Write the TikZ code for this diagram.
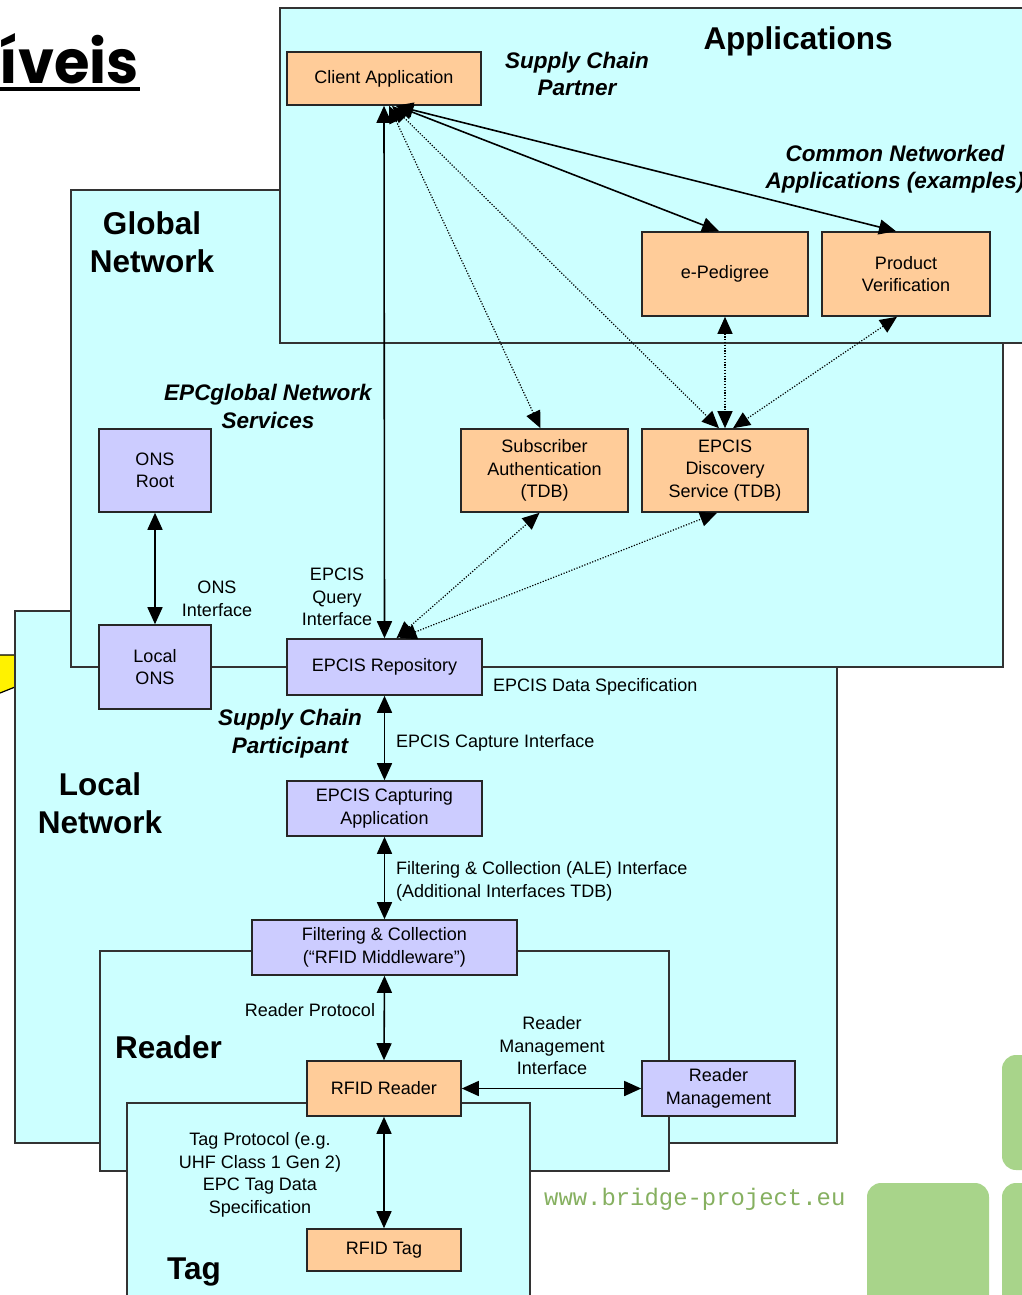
\documentclass[tikz,border=0pt]{standalone}
\usepackage{graphicx}
\usepackage{fontspec}
\setmainfont{Liberation Sans}
\setmonofont{Liberation Mono}
\newfontfamily\titlefont{Poppins}
\usetikzlibrary{arrows.meta}

\definecolor{netbg}{HTML}{CCFFFF}
\definecolor{appbox}{HTML}{FFCC99}
\definecolor{svcbox}{HTML}{CCCCFF}
\definecolor{frame}{HTML}{333333}
\definecolor{leaf}{HTML}{A8D48A}
\definecolor{urlgreen}{HTML}{86B060}

\newcommand\boxtext{\fontsize{18}{22.5}\selectfont}
\newcommand\headtext{\fontsize{31.5}{38}\selectfont\bfseries}
\newcommand\roletext{\fontsize{22.5}{27.5}\selectfont\bfseries\itshape}

\begin{document}
\begin{tikzpicture}[x=1pt,y=-1pt,
  zone/.style={draw=frame, fill=netbg, line width=1.6pt},
  comp/.style={draw=black!85, line width=1.6pt, font=\boxtext, align=center, inner sep=0pt},
  orangebox/.style={comp, fill=appbox},
  violetbox/.style={comp, fill=svcbox},
  lbl/.style={font=\boxtext, align=center, inner sep=0pt},
  head/.style={font=\headtext, align=center, inner sep=0pt},
  role/.style={font=\roletext, align=center, inner sep=0pt},
  link/.style={line width=1.6pt, {Triangle[length=17pt,width=15pt]}-{Triangle[length=17pt,width=15pt]}},
  dlink/.style={line width=1.2pt, dash pattern=on 1.2pt off 1.6pt, {Triangle[length=17pt,width=15pt]}-{Triangle[length=17pt,width=15pt]}},
  tile/.style={fill=leaf, rounded corners=14pt}]

\clip (0,0) rectangle (1022,1295);
\fill[white] (0,0) rectangle (1022,1295);

% heading fragment and its underline
\node[anchor=base east, inner sep=0pt] (heading) at (139,83.5)
  {\resizebox{139pt}{50pt}{\titlefont\bfseries íveis}};
\fill (0,87.5) rectangle (140,91.5);

% yellow pointer at the left margin
\filldraw[fill=yellow, draw=black, line width=1.2pt]
  (0,655) -- (15,655) -- (15,687) -- (0,693);

% nested network zones
\path[zone] (15,611) rectangle (837,1143);
\path[zone] (71,190) rectangle (1003,667);
\path[zone] (280,8) rectangle (1040,343);
\path[zone] (100,951) rectangle (669,1171);
\path[zone] (127,1103) rectangle (530,1310);

% decorative tiles
\path[tile] (867,1183) rectangle (989,1320);
\path[tile] (1002,1055) rectangle (1050,1170);
\path[tile] (1002,1183) rectangle (1050,1320);

% zone titles
\node[head, anchor=base] (tApps) at (798,50) {Applications};
\node[head] (tGlobal) at (152,242) {Global\\Network};
\node[head] (tLocal) at (100,803.5) {Local\\Network};
\node[head, anchor=west] (tReader) at (115,1047) {Reader};
\node[head, anchor=west] (tTag) at (167,1272) {Tag};

% role captions
\node[role] (rPartner) at (577,74) {Supply Chain\\Partner};
\node[role] (rCommon) at (895,169) {Common Networked\\Applications (examples)};
\node[role] (rServices) at (268,406.5) {EPCglobal Network\\Services};
\node[role] (rParticipant) at (290,733.5) {Supply Chain\\Participant};

% components
\node[orangebox, minimum width=194pt, minimum height=53pt] (client) at (384,78.5) {Client Application};
\node[orangebox, minimum width=166pt, minimum height=84pt] (ped) at (725,274) {e-Pedigree};
\node[orangebox, minimum width=168pt, minimum height=84pt] (prodv) at (906,274) {Product\\Verification};
\node[violetbox, minimum width=112pt, minimum height=83pt] (onsroot) at (155,470.5) {ONS\\Root};
\node[violetbox, minimum width=112pt, minimum height=84pt] (localons) at (155,667) {Local\\ONS};
\node[orangebox, minimum width=167pt, minimum height=83pt] (subauth) at (544.5,470.5) {Subscriber\\Authentication\\(TDB)};
\node[orangebox, minimum width=166pt, minimum height=83pt] (discov) at (725,470.5) {EPCIS\\Discovery\\Service (TDB)};
\node[violetbox, minimum width=195pt, minimum height=56pt] (repo) at (384.5,667) {EPCIS Repository};
\node[violetbox, minimum width=195pt, minimum height=55pt] (capt) at (384.5,808.5) {EPCIS Capturing\\Application};
\node[violetbox, minimum width=265pt, minimum height=55pt] (fc) at (384.5,947.5) {Filtering \& Collection\\(“RFID Middleware”)};
\node[orangebox, minimum width=154pt, minimum height=55pt] (reader) at (384,1088.5) {RFID Reader};
\node[violetbox, minimum width=153pt, minimum height=55pt] (rmgmt) at (718.5,1088.5) {Reader\\Management};
\node[orangebox, minimum width=154pt, minimum height=42pt] (tag) at (384,1250) {RFID Tag};

% interface labels
\node[lbl] (lOns) at (217,599) {ONS\\Interface};
\node[lbl] (lQuery) at (337,597) {EPCIS\\Query\\Interface};
\node[lbl, anchor=west] (lData) at (493,687) {EPCIS Data Specification};
\node[lbl, anchor=west] (lCapture) at (396,743) {EPCIS Capture Interface};
\node[lbl, anchor=west, align=left] (lAle) at (396,881.5) {Filtering \& Collection (ALE) Interface\\(Additional Interfaces TDB)};
\node[lbl] (lProto) at (310,1010) {Reader Protocol};
\node[lbl] (lMgmt) at (552,1046) {Reader\\Management\\Interface};
\node[lbl] (lTagProto) at (260,1175) {Tag Protocol (e.g.\\UHF Class 1 Gen 2)\\EPC Tag Data\\Specification};

% web address
\node[font=\ttfamily\fontsize{23.9}{28}\selectfont, text=urlgreen, anchor=west, inner sep=0pt] (url) at (544,1199) {www.bridge-project.eu};

% solid interfaces
\draw[link] (repo.north) -- (client.south);
\draw[link] ([xshift=12pt]client.south) -- ([xshift=-6pt]ped.north);
\draw[link] ([xshift=12pt]client.south) -- ([xshift=-10pt]prodv.north);
\draw[link] (localons.north) -- (onsroot.south);
\draw[link] (repo.south) -- (capt.north);
\draw[link] (capt.south) -- (fc.north);
\draw[link] (fc.south) -- (reader.north);
\draw[link] (reader.east) -- (rmgmt.west);
\draw[link] (reader.south) -- (tag.north);

% dotted (to be defined) interfaces
\draw[dlink] ([xshift=5pt]client.south) -- ([xshift=-4pt]subauth.north);
\draw[dlink] ([xshift=8pt]client.south) -- ([xshift=-6pt]discov.north);
\draw[dlink] (ped.south) -- (discov.north);
\draw[dlink] ([xshift=-9pt]prodv.south) -- ([xshift=8pt]discov.north);
\draw[dlink] ([xshift=12pt]repo.north) -- ([xshift=-5pt]subauth.south);
\draw[dlink] ([xshift=15pt]repo.north) -- ([xshift=-8pt]discov.south);

\end{tikzpicture}
\end{document}
